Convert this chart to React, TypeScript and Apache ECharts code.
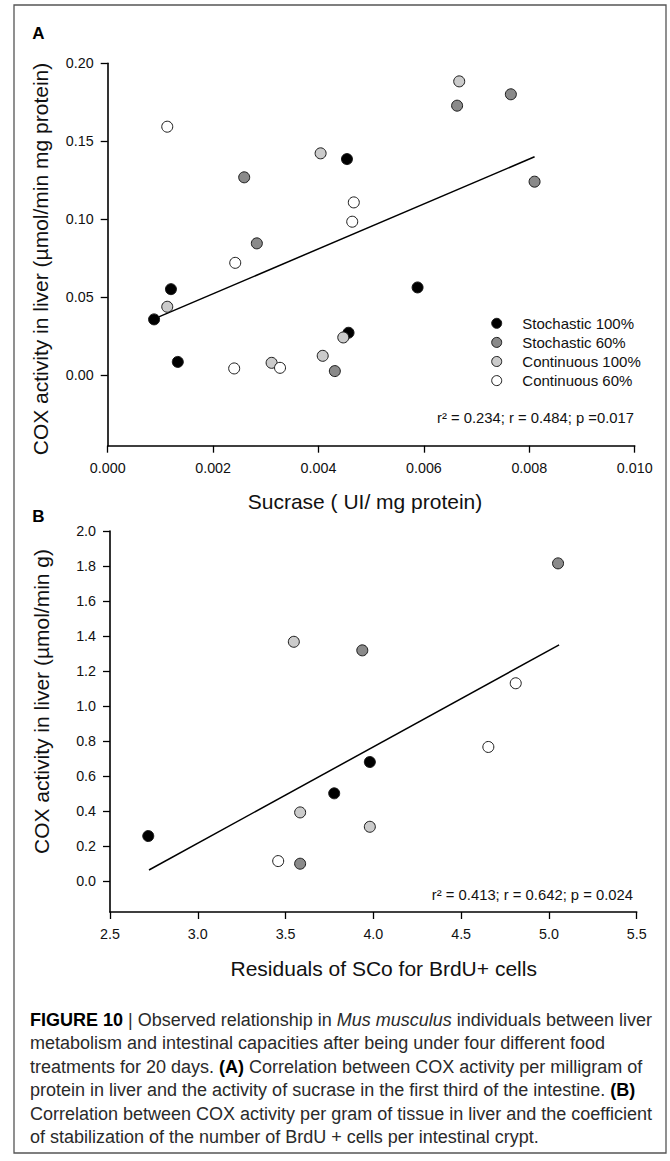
import React, { useEffect, useRef } from "react";
import * as echarts from "echarts";

const FONT = "'Liberation Sans', Arial, Helvetica, sans-serif";

// ---------- shared series meta ----------
const SERIES_NAMES = ["Stochastic 100%", "Stochastic 60%", "Continuous 100%", "Continuous 60%"];
const SERIES_COLORS = ["#000000", "#8a8a8a", "#cbcbcb", "#ffffff"];

// ---------- Panel A: Sucrase vs COX (per mg protein) ----------
const A_STOCH100 = [
  [0.0012, 0.055], [0.00088, 0.0356], [0.00133, 0.0083],
  [0.00454, 0.1385], [0.00588, 0.0561], [0.00457, 0.027],
];
const A_STOCH60 = [
  [0.00259, 0.1268], [0.00283, 0.0844], [0.00431, 0.0024],
  [0.00663, 0.1728], [0.00765, 0.1801], [0.0081, 0.124],
];
const A_CONT100 = [
  [0.00404, 0.1422], [0.00113, 0.0437], [0.00311, 0.0077],
  [0.00408, 0.0122], [0.00667, 0.1884], [0.00447, 0.024],
];
const A_CONT60 = [
  [0.00113, 0.1593], [0.00242, 0.0719], [0.0024, 0.0041],
  [0.00327, 0.0045], [0.00467, 0.1107], [0.00464, 0.0983],
];
const A_FIT = [[0.00088, 0.0359], [0.0081, 0.14]];
const A_X_TICKS = [0, 0.002, 0.004, 0.006, 0.008, 0.01];
const A_Y_TICKS = [0, 0.05, 0.1, 0.15, 0.2];
const A_STATS = "r² = 0.234; r = 0.484; p =0.017";

// ---------- Panel B: Residuals of SCo vs COX (per g) ----------
const B_STOCH100 = [[2.718, 0.257], [3.777, 0.501], [3.98, 0.68]];
const B_STOCH60 = [[3.583, 0.099], [3.937, 1.318], [5.052, 1.815]];
const B_CONT100 = [[3.547, 1.367], [3.583, 0.392], [3.98, 0.31]];
const B_CONT60 = [[3.458, 0.114], [4.655, 0.766], [4.811, 1.13]];
const B_FIT = [[2.722, 0.063], [5.058, 1.349]];
const B_X_TICKS = [2.5, 3.0, 3.5, 4.0, 4.5, 5.0, 5.5];
const B_Y_TICKS = [0, 0.2, 0.4, 0.6, 0.8, 1.0, 1.2, 1.4, 1.6, 1.8, 2.0];
const B_STATS = "r² = 0.413; r = 0.642; p = 0.024";

const CAPTION_LINES = [
  "{b|FIGURE 10} | Observed relationship in {i|Mus musculus} individuals between liver",
  "metabolism and intestinal capacities after being under four different food",
  "treatments for 20 days. {b|(A)} Correlation between COX activity per milligram of",
  "protein in liver and the activity of sucrase in the first third of the intestine. {b|(B)}",
  "Correlation between COX activity per gram of tissue in liver and the coefficient",
  "of stabilization of the number of BrdU + cells per intestinal crypt.",
];

function makeXAxis(gridIndex: number, min: number, max: number, ticks: number[], digits: number) {
  return {
    type: "value",
    gridIndex,
    min,
    max,
    axisLine: { show: true, onZero: false, lineStyle: { color: "#000", width: 1.6 } },
    axisTick: { show: true, length: 7, lineStyle: { color: "#000", width: 1.3 }, customValues: ticks },
    axisLabel: {
      customValues: ticks,
      formatter: (v: number) => v.toFixed(digits),
      fontSize: 14.3,
      fontFamily: FONT,
      color: "#111",
      margin: 15,
    },
    splitLine: { show: false },
  };
}

function makeYAxis(gridIndex: number, min: number, max: number, ticks: number[], digits: number) {
  return {
    type: "value",
    gridIndex,
    min,
    max,
    axisLine: { show: true, onZero: false, lineStyle: { color: "#000", width: 1.6 } },
    axisTick: { show: true, length: 7, lineStyle: { color: "#000", width: 1.3 }, customValues: ticks },
    axisLabel: {
      customValues: ticks,
      formatter: (v: number) => v.toFixed(digits),
      fontSize: 14.3,
      fontFamily: FONT,
      color: "#111",
      margin: 14,
    },
    splitLine: { show: false },
  };
}

function scatterSeries(name: string, idx: number, data: number[][], axisIndex: number) {
  return {
    type: "scatter",
    name,
    xAxisIndex: axisIndex,
    yAxisIndex: axisIndex,
    data,
    symbol: "circle",
    symbolSize: 11,
    z: 5,
    itemStyle: { color: SERIES_COLORS[idx], borderColor: "#1a1a1a", borderWidth: 1, opacity: 1 },
  };
}

function fitSeries(data: number[][], axisIndex: number) {
  return {
    type: "line",
    name: "fit",
    xAxisIndex: axisIndex,
    yAxisIndex: axisIndex,
    data,
    showSymbol: false,
    symbol: "none",
    z: 3,
    lineStyle: { color: "#000", width: 1.5 },
  };
}

function txt(x: number, y: number, text: string, opts: any = {}) {
  const align = opts.align || "left";
  const vAlign = opts.verticalAlign || "middle";
  return {
    type: "text",
    x,
    y,
    rotation: opts.rotation || 0,
    silent: true,
    style: {
      text,
      fill: opts.fill || "#111",
      fontSize: opts.fontSize || 14,
      fontFamily: FONT,
      fontWeight: opts.fontWeight || "normal",
      fontStyle: opts.fontStyle || "normal",
      align,
      textAlign: align,
      verticalAlign: vAlign,
      textVerticalAlign: vAlign,
      rich: opts.rich,
    },
  };
}

export default function App() {
  const ref = useRef<HTMLDivElement>(null);

  useEffect(() => {
    if (!ref.current) return;
    const chart = echarts.init(ref.current, null, { renderer: "svg" });

    const groupsA = [A_STOCH100, A_STOCH60, A_CONT100, A_CONT60];
    const groupsB = [B_STOCH100, B_STOCH60, B_CONT100, B_CONT60];

    const legendEls: any[] = [];
    SERIES_NAMES.forEach((name, i) => {
      const cy = 323.3 + i * 19.1;
      legendEls.push({
        type: "circle",
        silent: true,
        shape: { cx: 496.7, cy, r: 5 },
        style: { fill: SERIES_COLORS[i], stroke: "#1a1a1a", lineWidth: 1 },
      });
      legendEls.push(txt(522.3, cy, name, { fontSize: 15 }));
    });

    const captionEls = CAPTION_LINES.map((line, i) =>
      txt(30, 1019.5 + i * 23.5, line, {
        fontSize: 18,
        fill: "#2a2a2a",
        rich: {
          b: { fontWeight: "bold", fontSize: 18, fontFamily: FONT, fill: "#000" },
          i: { fontStyle: "italic", fontSize: 18, fontFamily: FONT, fill: "#2a2a2a" },
        },
      })
    );

    const option: any = {
      animation: false,
      backgroundColor: "#ffffff",
      grid: [
        { left: 107.7, top: 63.3, width: 527, height: 382.4 },
        { left: 110, top: 531, width: 526.7, height: 381 },
      ],
      xAxis: [
        makeXAxis(0, 0, 0.01, A_X_TICKS, 3),
        makeXAxis(1, 2.5, 5.5, B_X_TICKS, 1),
      ],
      yAxis: [
        makeYAxis(0, -0.0455, 0.2, A_Y_TICKS, 2),
        makeYAxis(1, -0.177, 2.0, B_Y_TICKS, 1),
      ],
      series: [
        fitSeries(A_FIT, 0),
        ...groupsA.map((d, i) => scatterSeries(SERIES_NAMES[i], i, d, 0)),
        fitSeries(B_FIT, 1),
        ...groupsB.map((d, i) => scatterSeries(SERIES_NAMES[i], i, d, 1)),
      ],
      graphic: [
        {
          type: "rect",
          silent: true,
          shape: { x: 14, y: 5, width: 652, height: 1148 },
          style: { fill: "none", stroke: "#555", lineWidth: 1.3 },
        },
        txt(38.5, 33, "A", { fontSize: 17, fontWeight: "bold", align: "center", fill: "#000" }),
        txt(38.5, 516, "B", { fontSize: 17, fontWeight: "bold", align: "center", fill: "#000" }),
        txt(40, 259, "COX activity in liver (µmol/min mg protein)", {
          fontSize: 21, align: "center", rotation: Math.PI / 2,
        }),
        txt(365, 501, "Sucrase ( UI/ mg protein)", { fontSize: 21, align: "center" }),
        txt(41, 701.5, "COX activity in liver (µmol/min g)", {
          fontSize: 21, align: "center", rotation: Math.PI / 2,
        }),
        txt(383.7, 968, "Residuals of SCo for BrdU+ cells", { fontSize: 21, align: "center" }),
        txt(634, 417.7, A_STATS, { fontSize: 14.8, align: "right" }),
        txt(633, 895, B_STATS, { fontSize: 14.8, align: "right" }),
        ...legendEls,
        ...captionEls,
      ],
    };

    chart.setOption(option);
    return () => chart.dispose();
  }, []);

  return (
    <div
      ref={ref}
      style={{ position: "absolute", left: 0, top: 0, width: 670, height: 1161, background: "#fff" }}
    />
  );
}
